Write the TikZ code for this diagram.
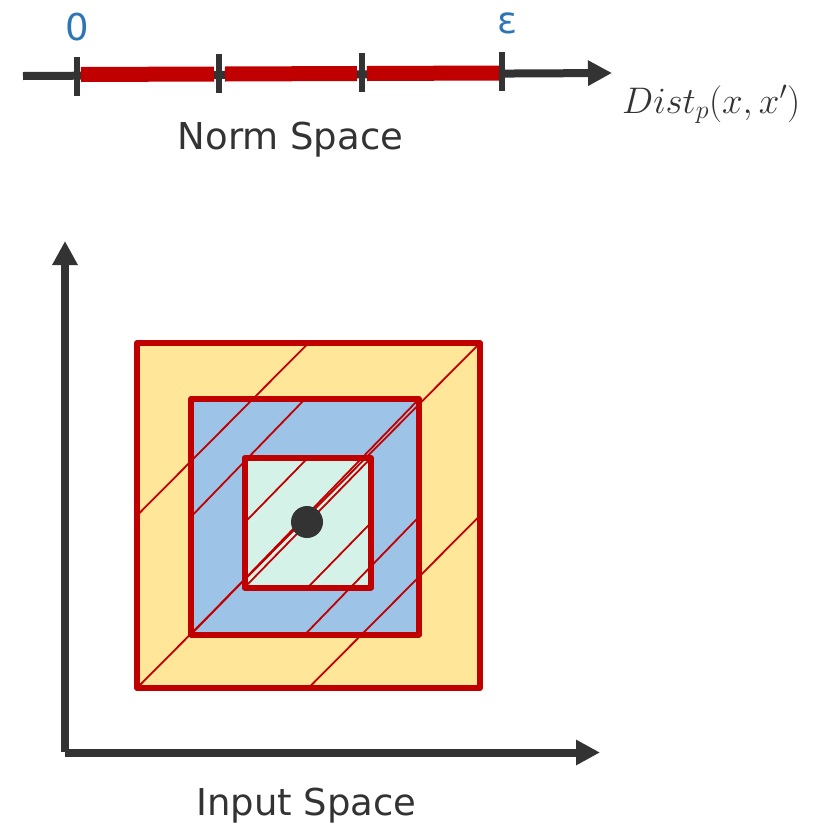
\RequirePackage{fix-cm}
\documentclass[tikz,border=0pt]{standalone}
\usepackage{fontspec}
\setmainfont{DejaVu Sans}
\usetikzlibrary{arrows.meta}
\definecolor{axisgray}{HTML}{333333}
\definecolor{textgray}{HTML}{333333}
\definecolor{bordred}{HTML}{C00000}
\definecolor{tickblue}{HTML}{2E75B6}
\definecolor{fillyellow}{HTML}{FFE699}
\definecolor{fillblue}{HTML}{9DC3E6}
\definecolor{fillmint}{HTML}{D5F2E8}
\begin{document}
\begin{tikzpicture}[x=1pt,y=-1pt,
  axisline/.style={draw=axisgray, line width=8pt},
  axisarrow/.style={axisline, -{Triangle[length=24pt,width=24pt]}},
  tickmark/.style={draw=axisgray, line width=6pt},
  redseg/.style={draw=bordred, line width=15pt},
  sqborder/.style={draw=bordred, line width=6pt, line join=round},
  hatchline/.style={draw=bordred, line width=1.8pt},
  lbl/.style={font=\fontsize{37}{44}\selectfont, text=textgray, inner sep=0pt},
  ticklbl/.style={font=\fontsize{37}{44}\selectfont, text=tickblue, inner sep=0pt}]
\useasboundingbox (0,0) rectangle (820,825);

% ---------- Norm space axis ----------
\coordinate (nstart) at (23,76);
\coordinate (nend) at (612,73);
\draw[axisarrow] (nstart) -- (nend);
\draw[redseg] (81,74.5) -- (214,74);
\draw[redseg] (225,74) -- (357,73.5);
\draw[redseg] (367,73.5) -- (499,73);
\draw[tickmark] (76.5,57) -- (76.5,96);
\draw[tickmark] (219,54) -- (219,93);
\draw[tickmark] (362,53) -- (362,92);
\draw[tickmark] (502,52) -- (502,91);
\node[ticklbl, anchor=base] (zero) at (77,40) {0};
\node[ticklbl, anchor=base] (eps) at (507,33) {ε};
\node[lbl, anchor=base west] (dist) at (622,113) {$Dist_p(x,x')$};
\node[lbl, anchor=base] (norm) at (290.5,149) {Norm Space};

% ---------- Input space axes ----------
\coordinate (origin) at (65,752.5);
\coordinate (ytip) at (65,241);
\coordinate (xtip) at (600,752.5);
\draw[axisarrow] (65,752) -- (ytip);
\draw[axisarrow] (origin) -- (xtip);
\node[lbl, anchor=base] (input) at (306.5,815) {Input Space};

% ---------- squares ----------
\coordinate (otl) at (137,343);   \coordinate (obr) at (480,688);
\coordinate (mtl) at (191,399);   \coordinate (mbr) at (419,634.5);
\coordinate (itl) at (244.5,458); \coordinate (ibr) at (371,587.5);
\fill[fillyellow] (otl) rectangle (obr);
\fill[fillblue] (mtl) rectangle (mbr);
\fill[fillmint] (itl) rectangle (ibr);
\foreach \a/\b/\c/\d in {137/343/480/688, 191/399/419/634.5, 244.5/458/371/587.5}{
  \draw[hatchline] (\a,\d) -- (\c,\b);
  \draw[hatchline] (\a,{(\b+\d)/2}) -- ({(\a+\c)/2},\b);
  \draw[hatchline] ({(\a+\c)/2},\d) -- (\c,{(\b+\d)/2});
}
\draw[sqborder] (otl) rectangle (obr);
\draw[sqborder] (mtl) rectangle (mbr);
\draw[sqborder] (itl) rectangle (ibr);
\fill[axisgray] (307,522) circle[radius=16pt];
\end{tikzpicture}
\end{document}
